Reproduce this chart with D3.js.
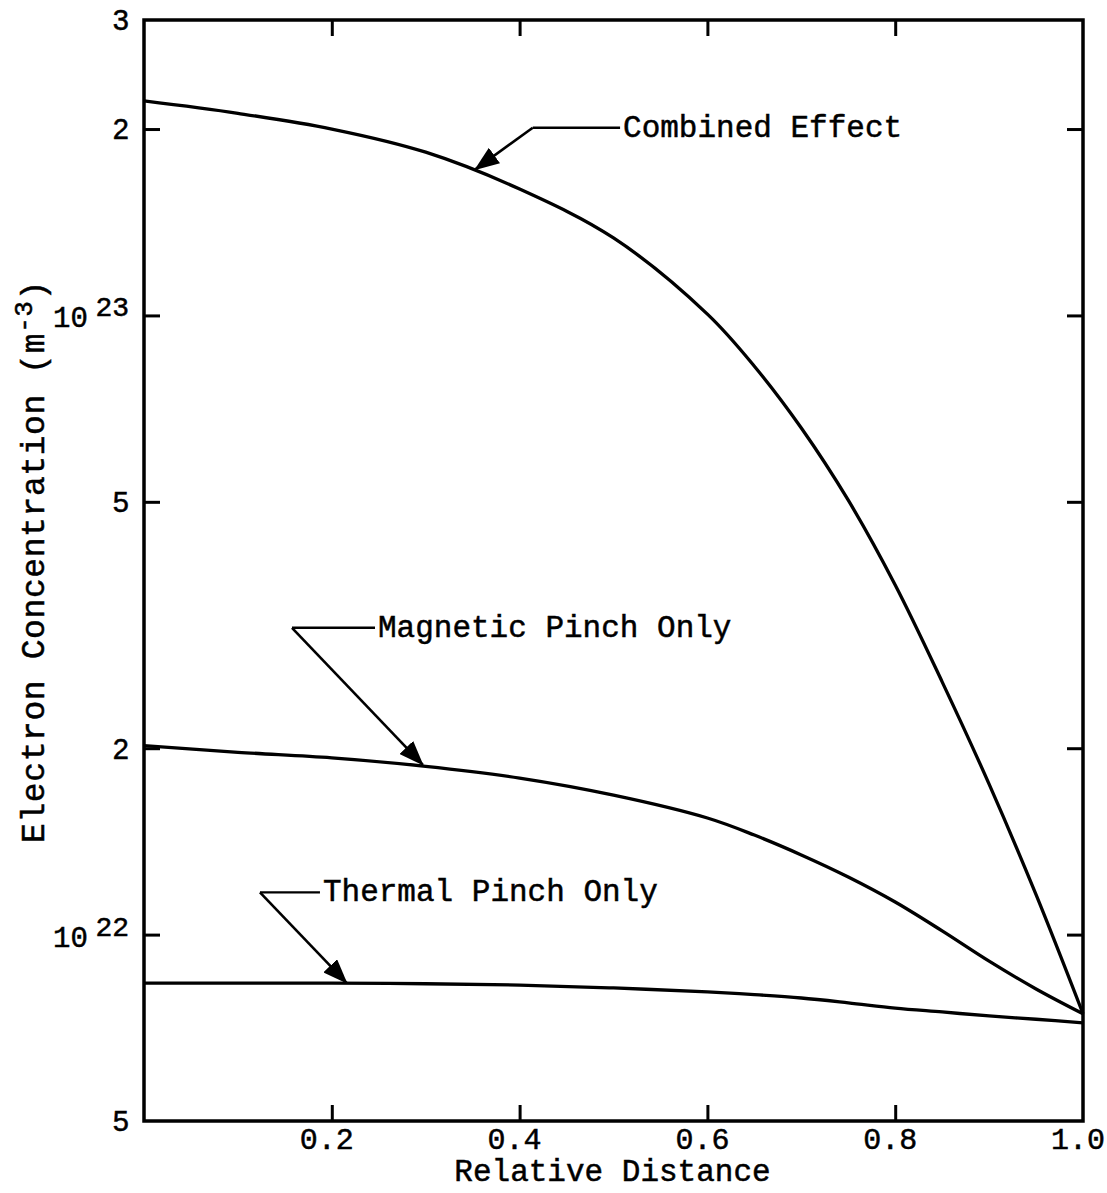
<!DOCTYPE html>
<html>
<head>
<meta charset="utf-8">
<script src="https://cdn.jsdelivr.net/npm/d3@7"></script>
<style>
  html, body { margin: 0; padding: 0; background: #fff; }
  svg { display: block; }
  .mono { font-family: "Liberation Mono", "DejaVu Sans Mono", monospace; fill: #000; stroke: #000; stroke-width: 0.5px; }
  .sans { font-family: "Liberation Sans", Arial, sans-serif; fill: #000; stroke: #000; stroke-width: 0.5px; }
</style>
</head>
<body>
<svg id="chart" width="1107" height="1193"></svg>
<script>
// Relative distance across the discharge (0 = axis, 1 = wall)
const distance = [0, 0.1, 0.2, 0.3, 0.4, 0.5, 0.6, 0.65, 0.7, 0.75, 0.8, 0.85, 0.9, 0.95, 1.0];

// Electron concentration, m^-3
const combinedEffect = [2.22e23, 2.12e23, 2.0e23, 1.835e23, 1.60e23, 1.334e23, 1.005e23, 8.28e22, 6.58e22, 5.03e22, 3.67e22, 2.56e22, 1.75e22, 1.16e22, 7.45e21];
const magneticPinch  = [2.02e22, 1.97e22, 1.93e22, 1.87e22, 1.79e22, 1.68e22, 1.543e22, 1.448e22, 1.345e22, 1.239e22, 1.129e22, 1.014e22, 9.06e21, 8.17e21, 7.45e21];
const thermalPinch   = [8.35e21, 8.35e21, 8.35e21, 8.33e21, 8.29e21, 8.2e21, 8.08e21, 8.0e21, 7.9e21, 7.76e21, 7.61e21, 7.5e21, 7.39e21, 7.3e21, 7.2e21];

const seriesNames = ["Combined Effect", "Magnetic Pinch Only", "Thermal Pinch Only"];
const seriesValues = [combinedEffect, magneticPinch, thermalPinch];

// Axis ticks and their labels
const xTicks = [0.2, 0.4, 0.6, 0.8, 1.0];
const xTickLabels = ["0.2", "0.4", "0.6", "0.8", "1.0"];
const yTickValues = [3e23, 2e23, 1e23, 5e22, 2e22, 1e22, 5e21];
const yTickMantissa = ["3", "2", "10", "5", "2", "10", "5"];
const yTickExponent = ["", "", "23", "", "", "22", ""];

// Callouts: arrow tip on the curve, elbow of the leader, end of the horizontal leader
const calloutTipX   = [0.3525, 0.297, 0.216];
const calloutTipY   = [1.72e23, 1.88e22, 8.35e21];
const calloutElbowX = [0.414, 0.1576, 0.1235];
const calloutElbowY = [2.01e23, 3.13e22, 1.17e22];
const calloutEndX   = [0.507, 0.246, 0.1874];

const svg = d3.select("#chart");
const plotLeft = 144, plotRight = 1083, plotTop = 20, plotBottom = 1121;

const x = d3.scaleLinear().domain([0, 1]).range([plotLeft, plotRight]);
const y = d3.scaleLog().domain([5e21, 3e23]).range([plotBottom, plotTop]);

// Curves
const line = d3.line()
  .x(d => x(d[0]))
  .y(d => y(d[1]))
  .curve(d3.curveCatmullRom.alpha(0.5));

seriesValues.forEach(vals => {
  svg.append("path")
    .datum(distance.map((d, i) => [d, vals[i]]))
    .attr("d", line)
    .attr("fill", "none")
    .attr("stroke", "#000")
    .attr("stroke-width", 3.3)
    .attr("stroke-linejoin", "round");
});

// Inward ticks on all four sides
const innerY = yTickValues.filter(v => v < 3e23 && v > 5e21);
const innerX = xTicks.filter(v => v < 1);

function styleAxis(g) {
  g.select(".domain").remove();
  g.selectAll(".tick line").attr("stroke", "#000").attr("stroke-width", 3);
  g.selectAll(".tick text").remove();
}

svg.append("g").attr("transform", `translate(${plotLeft},0)`)
  .call(d3.axisLeft(y).tickValues(innerY).tickSize(-16).tickFormat(""))
  .call(styleAxis);
svg.append("g").attr("transform", `translate(${plotRight},0)`)
  .call(d3.axisRight(y).tickValues(innerY).tickSize(-16).tickFormat(""))
  .call(styleAxis);
svg.append("g").attr("transform", `translate(0,${plotBottom})`)
  .call(d3.axisBottom(x).tickValues(innerX).tickSize(-16).tickFormat(""))
  .call(styleAxis);
svg.append("g").attr("transform", `translate(0,${plotTop})`)
  .call(d3.axisTop(x).tickValues(innerX).tickSize(-16).tickFormat(""))
  .call(styleAxis);

// Frame
svg.append("rect")
  .attr("x", plotLeft).attr("y", plotTop)
  .attr("width", plotRight - plotLeft).attr("height", plotBottom - plotTop)
  .attr("fill", "none").attr("stroke", "#000").attr("stroke-width", 3.5);

// X tick labels
svg.append("g").selectAll("text")
  .data(xTicks)
  .join("text")
  .attr("class", "mono")
  .attr("x", d => x(d) - 5)
  .attr("y", plotBottom + 28)
  .attr("text-anchor", "middle")
  .attr("font-size", 30)
  .text((d, i) => xTickLabels[i]);

// Y tick labels: plain mantissas, and powers of ten with a raised exponent
yTickValues.forEach((v, i) => {
  if (yTickExponent[i]) {
    svg.append("text")
      .attr("class", "mono")
      .attr("x", 53)
      .attr("y", y(v) + 12)
      .attr("font-size", 29)
      .text(yTickMantissa[i]);
    svg.append("text")
      .attr("class", "mono")
      .attr("x", 129)
      .attr("y", y(v) + 1)
      .attr("text-anchor", "end")
      .attr("font-size", 28)
      .text(yTickExponent[i]);
  } else {
    svg.append("text")
      .attr("class", "sans")
      .attr("x", 129)
      .attr("y", y(v))
      .attr("dy", "0.36em")
      .attr("text-anchor", "end")
      .attr("font-size", 29)
      .text(yTickMantissa[i]);
  }
});

// Axis titles
svg.append("text")
  .attr("class", "mono")
  .attr("x", (plotLeft + plotRight) / 2 - 1)
  .attr("y", 1181)
  .attr("text-anchor", "middle")
  .attr("font-size", 31)
  .text("Relative Distance");

const yTitle = svg.append("text")
  .attr("class", "mono")
  .attr("transform", `translate(44,${(plotTop + plotBottom) / 2 - 9}) rotate(-90)`)
  .attr("text-anchor", "middle")
  .attr("font-size", 33)
  .attr("letter-spacing", 0.6);
yTitle.append("tspan").text("Electron Concentration (m");
yTitle.append("tspan").attr("font-size", 26).attr("dy", -12).text("-3");
yTitle.append("tspan").attr("dy", 12).text(")");

// Callouts with arrows
const defs = svg.append("defs");
defs.append("marker")
  .attr("id", "head")
  .attr("viewBox", "0 0 25 19")
  .attr("refX", 24).attr("refY", 9.5)
  .attr("markerWidth", 25).attr("markerHeight", 19)
  .attr("markerUnits", "userSpaceOnUse")
  .attr("orient", "auto")
  .append("path")
  .attr("d", "M0,0 L25,9.5 L0,19 Z")
  .attr("fill", "#000");

seriesNames.forEach((name, i) => {
  const ex = x(calloutElbowX[i]), ey = y(calloutElbowY[i]);
  const tx = x(calloutTipX[i]), ty = y(calloutTipY[i]);
  const endX = x(calloutEndX[i]);
  svg.append("line")
    .attr("x1", ex).attr("y1", ey).attr("x2", endX).attr("y2", ey)
    .attr("stroke", "#000").attr("stroke-width", 2.4);
  svg.append("line")
    .attr("x1", ex).attr("y1", ey).attr("x2", tx).attr("y2", ty)
    .attr("stroke", "#000").attr("stroke-width", 2.6)
    .attr("marker-end", "url(#head)");
  svg.append("text")
    .attr("class", "mono")
    .attr("x", endX + 3)
    .attr("y", ey + 9)
    .attr("font-size", 31)
    .text(name);
});
</script>
</body>
</html>
